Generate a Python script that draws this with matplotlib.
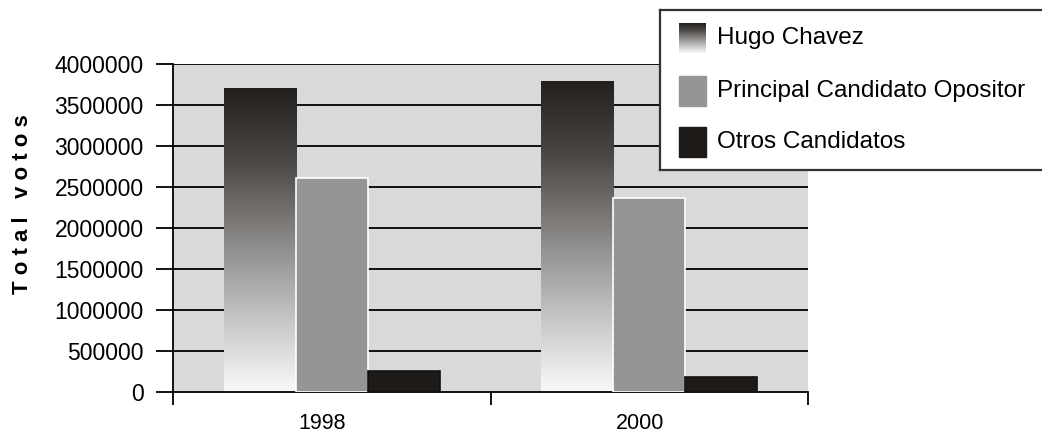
import numpy as np
import matplotlib.pyplot as plt
from matplotlib.colors import LinearSegmentedColormap

plt.rcParams['font.family'] = ['Liberation Sans', 'DejaVu Sans']

years = ["1998", "2000"]
chavez = [3700000, 3790000]
opositor = [2610000, 2370000]
otros = [260000, 180000]
series_names = ["Hugo Chavez", "Principal Candidato Opositor", "Otros Candidatos"]
yticks = [0, 500000, 1000000, 1500000, 2000000, 2500000, 3000000, 3500000, 4000000]

grad = LinearSegmentedColormap.from_list("grad", ["#f9f9f9", "#c4c3c2", "#8a8886", "#4e4a47", "#231f1c"])
gray_col = "#969595"
dark_col = "#1e1a17"

fig = plt.figure(figsize=(10.42, 4.37), dpi=100)
ax = fig.add_axes([173/1042, 45/437, 635/1042, 328/437])
ax.set_facecolor("#d9d9d9")

x = np.arange(len(years))
w = 0.227

# gridlines drawn as black rules behind the bars
for t in yticks[1:]:
    ax.axhline(t, color="black", lw=1.3, zorder=1)

grad_img = np.linspace(0, 1, 256).reshape(-1, 1)
for xi, v in zip(x, chavez):
    left = xi - w * 1.5
    ax.imshow(grad_img, cmap=grad, origin="lower", aspect="auto",
              extent=(left, left + w, 0, v), zorder=2)
ax.bar(x, opositor, w, color=gray_col, edgecolor="white", lw=1.2, zorder=3)
ax.bar(x + w, otros, w, color=dark_col, edgecolor="#111111", lw=1.2, zorder=3)

ax.set_xlim(-0.5, 1.5)
ax.set_ylim(0, 4000000)
ax.set_yticks(yticks)
ax.set_yticklabels([str(t) for t in yticks], fontsize=16.5)
ax.set_xticks([-0.5, 0.5, 1.5])
ax.set_xticklabels([])
ax.set_xticks(x - 0.03, minor=True)
ax.set_xticklabels(years, minor=True, fontsize=15.5)
ax.tick_params(axis="x", which="major", direction="out", length=9, width=1.3)
ax.tick_params(axis="x", which="minor", length=0, pad=15)
ax.tick_params(axis="y", direction="out", length=12, width=1.3, pad=9)
for s in ["top", "right"]:
    ax.spines[s].set_visible(False)
for s in ["left", "bottom"]:
    ax.spines[s].set_linewidth(1.3)

fig.text(23/1042, 1 - 204/437, "T o t a l   v o t o s", rotation=90, fontsize=16,
         fontweight="bold", ha="center", va="center")

# legend box, right edge runs off the figure
lg = fig.add_axes([660/1042, 1 - 170/437, 400/1042, 160/437])
lg.set_xticks([])
lg.set_yticks([])
for s in lg.spines.values():
    s.set_linewidth(1.6)
    s.set_color("#333333")
rows = [28, 81, 132]
lg.imshow(grad_img[::-1], cmap=grad, aspect="auto", extent=(19, 46, rows[0] + 15, rows[0] - 15))
lg.add_patch(plt.Rectangle((19, rows[1] - 15), 27, 30, color=gray_col))
lg.add_patch(plt.Rectangle((19, rows[2] - 15), 27, 30, color=dark_col))
for r, name in zip(rows, series_names):
    lg.text(57, r, name, fontsize=17.5, va="center", ha="left")
lg.set_xlim(0, 400)
lg.set_ylim(160, 0)

fig.savefig("out.png", dpi=100)
